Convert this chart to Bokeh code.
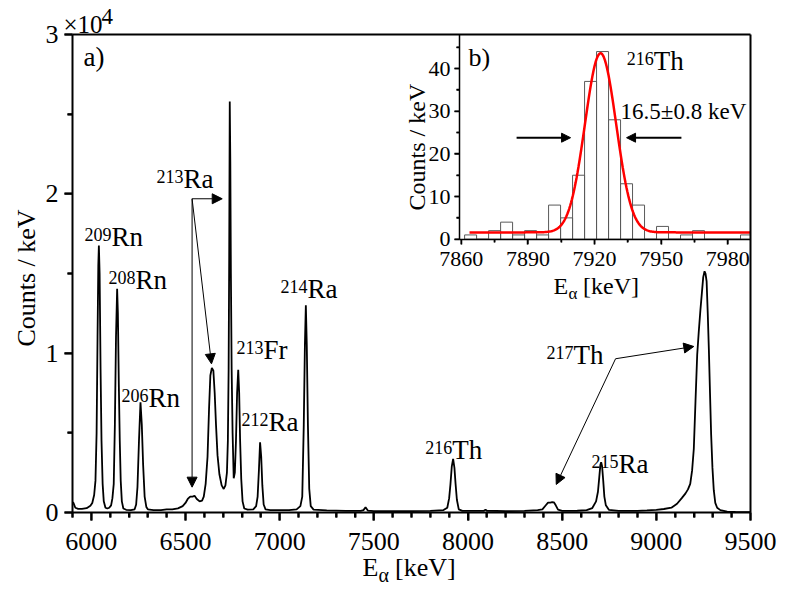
import math
import numpy as np
from bokeh.plotting import figure
from bokeh.models import Range1d, LinearAxis, FixedTicker, Label, Arrow, NormalHead
from bokeh.embed import file_html
from bokeh.resources import INLINE

# ---------------- data ----------------
spec_E = [5900, 5905, 5915, 5930, 5950, 5975, 5995, 6005, 6015, 6022, 6028, 6033, 6037, 6040,
          6044, 6049, 6054, 6060, 6066, 6075, 6085, 6095, 6105, 6112, 6119, 6125, 6131, 6137,
          6141, 6146, 6151, 6156, 6162, 6170, 6185, 6210, 6230, 6238, 6245, 6253, 6261, 6268,
          6275, 6283, 6292, 6300, 6330, 6370, 6400, 6430, 6460, 6485, 6500, 6512, 6525, 6538,
          6548, 6560, 6575, 6588, 6597, 6607, 6617, 6625, 6632, 6640, 6648, 6655, 6662, 6670,
          6680, 6692, 6703, 6712, 6720, 6725, 6729, 6732, 6735, 6738, 6741, 6745, 6750, 6756,
          6762, 6768, 6774, 6780, 6785, 6790, 6796, 6803, 6812, 6830, 6860, 6875, 6883, 6890,
          6896, 6902, 6908, 6915, 6925, 6950, 7000, 7050, 7090, 7110, 7120, 7128, 7134, 7139,
          7144, 7150, 7157, 7165, 7180, 7250, 7350, 7430, 7445, 7456, 7468, 7500, 7600, 7700,
          7800, 7870, 7890, 7900, 7907, 7914, 7921, 7928, 7934, 7941, 7951, 7970, 8050, 8085,
          8093, 8100, 8200, 8300, 8370, 8395, 8412, 8425, 8437, 8447, 8456, 8466, 8478, 8500,
          8580, 8630, 8660, 8680, 8690, 8697, 8703, 8707, 8712, 8718, 8724, 8732, 8748, 8800,
          8900, 8950, 9000, 9040, 9080, 9110, 9135, 9155, 9168, 9180, 9190, 9199, 9208, 9217,
          9225, 9234, 9242, 9249, 9256, 9261, 9267, 9273, 9279, 9285, 9291, 9298, 9305, 9313,
          9323, 9340, 9376, 9420, 9500]
spec_C = [650, 600, 300, 230, 230, 270, 420, 600, 1100, 2000, 5000, 11000, 15500, 16760,
          15000, 9000, 4500, 1800, 700, 300, 250, 300, 450, 900, 1800, 5500, 11000, 14040,
          12500, 8000, 4500, 2000, 700, 250, 170, 150, 200, 500, 1600, 4500, 6920, 5500,
          3000, 1000, 350, 200, 150, 150, 200, 190, 260, 400, 600, 850, 1000, 1000,
          1050, 850, 700, 750, 1000, 1800, 3500, 6500, 8600, 9080, 8900, 7500, 5500, 3600,
          2400, 1700, 1480, 1700, 2500, 4500, 9000, 16000, 25800, 22000, 15000, 9000, 5000, 2150,
          2500, 4500, 7500, 8960, 7500, 4500, 2100, 700, 250, 180, 200, 400, 1000, 2700,
          4410, 3500, 1700, 500, 200, 150, 150, 150, 200, 400, 1000, 5500, 10500, 13000,
          10500, 5500, 1500, 400, 180, 130, 100, 100, 150, 330, 120, 80, 80, 90,
          100, 150, 300, 900, 1800, 2900, 3370, 2800, 1800, 800, 200, 100, 100, 110,
          180, 110, 90, 100, 150, 200, 440, 620, 620, 650, 640, 450, 180, 100,
          110, 150, 280, 700, 1300, 2200, 3000, 3160, 2900, 2000, 1000, 450, 170, 100,
          100, 130, 170, 220, 300, 550, 900, 1200, 1450, 1800, 2640, 4000, 7000, 9900,
          11300, 12700, 13800, 14770, 15140, 15000, 14500, 12500, 10200, 7500, 4900, 2800, 1400, 600,
          300, 150, 50, 30, 20]

iso_mass = ["209", "208", "206", "213", "213", "212", "214", "216", "215", "217"]
iso_elem = ["Rn", "Rn", "Rn", "Ra", "Fr", "Ra", "Ra", "Th", "Ra", "Th"]

hist_start = 7861.5
hist_width = 5.4
hist_counts = [1, 0, 2, 4, 1, 2, 1, 8, 5, 15, 37, 44, 28, 13, 8, 0, 3, 0, 1, 2, 0, 0, 0, 1]

fit_center = 7922.7
fit_fwhm = 16.5
fit_peak = 43.6
fit_base = 1.6

main_xticks = [6000, 6500, 7000, 7500, 8000, 8500, 9000, 9500]
main_xminor = [x for x in range(5900, 9501, 100) if x % 500 != 0]
main_yticks = [0, 10000, 20000, 30000]
main_ylabels = ["0", "1", "2", "3"]
main_yminor = [5000, 15000, 25000]
inset_xticks = [7860, 7890, 7920, 7950, 7980]
inset_xminor = [7875, 7905, 7935, 7965]
inset_yticks = [0, 10, 20, 30, 40]
inset_yminor = [5, 15, 25, 35, 45]

# ---------------- layout ----------------
W, H = 788, 592
FONT = "Liberation Serif"
BASE_FIX = 0.31          # em shift that lifts text onto its alphabetic baseline

# main plot box (canvas pixels) and its data limits
ML, MR, MT, MB = 72, 750, 34, 512
X0, X1 = 5900, 9500
Y0, Y1 = 0, 30000
kx = (X1 - X0) / (MR - ML)
ky = (Y1 - Y0) / (MB - MT)

# inset box (canvas pixels) and its data limits
IL, IR, IT, IB = 459, 750, 34, 238.7
IX0, IX1 = 7859.2, 7990.2
IY0, IY1 = 0, 48
kix = (IX1 - IX0) / (IR - IL)
kiy = (IY1 - IY0) / (IB - IT)

# tick lengths (pixels)
MAJ, MIN_, IMAJ, IMIN = 8, 5, 5, 3

p = figure(width=W, height=H, output_backend="svg", toolbar_location=None,
           x_axis_location=None, y_axis_location=None,
           x_range=Range1d(X0 - ML * kx, X1 + (W - MR) * kx),
           y_range=Range1d(Y0 - (H - MB) * ky, Y1 + MT * ky),
           min_border_left=0, min_border_right=0, min_border_top=0, min_border_bottom=0)
p.extra_x_ranges = {"ix": Range1d(IX0 - IL * kix, IX1 + (W - IR) * kix)}
p.extra_y_ranges = {"iy": Range1d(IY0 - (H - IB) * kiy, IY1 + IT * kiy)}
for g in p.grid:
    g.visible = False
p.background_fill_color = "white"
p.border_fill_color = "white"
p.outline_line_color = None


def style_axis(ax, size, tick_out, minor_out, width, standoff):
    ax.axis_line_color = "black"
    ax.axis_line_width = width
    ax.major_tick_line_color = "black"
    ax.major_tick_line_width = width
    ax.minor_tick_line_color = "black"
    ax.minor_tick_line_width = width
    ax.major_tick_in = 0
    ax.major_tick_out = tick_out
    ax.minor_tick_in = 0
    ax.minor_tick_out = minor_out
    ax.major_label_text_font = FONT
    ax.major_label_text_font_size = f"{size}px"
    ax.major_label_text_color = "black"
    ax.major_label_standoff = standoff


# main axes, fixed on the data box
xa = LinearAxis(fixed_location=Y0, bounds=(X0, X1),
                ticker=FixedTicker(ticks=main_xticks, minor_ticks=main_xminor))
style_axis(xa, 26, MAJ, MIN_, 2, 12)
p.add_layout(xa, "below")
ya = LinearAxis(fixed_location=X0, bounds=(Y0, Y1),
                ticker=FixedTicker(ticks=main_yticks, minor_ticks=main_yminor))
ya.major_label_overrides = {t: s for t, s in zip(main_yticks, main_ylabels)}
style_axis(ya, 26, MAJ, MIN_, 2, 6)
p.add_layout(ya, "left")
ta = LinearAxis(fixed_location=Y1, bounds=(X0, X1), ticker=FixedTicker(ticks=[], minor_ticks=[]))
style_axis(ta, 26, 0, 0, 2, 0)
p.add_layout(ta, "above")
ra = LinearAxis(fixed_location=X1, bounds=(Y0, Y1), ticker=FixedTicker(ticks=[], minor_ticks=[]))
style_axis(ra, 26, 0, 0, 2, 0)
p.add_layout(ra, "right")

# inset axes
iya = LinearAxis(x_range_name="ix", y_range_name="iy", fixed_location=IX0, bounds=(IY0, IY1),
                 ticker=FixedTicker(ticks=inset_yticks, minor_ticks=inset_yminor))
style_axis(iya, 22, IMAJ, IMIN, 1.5, 4)
p.add_layout(iya, "left")
ixa = LinearAxis(x_range_name="ix", y_range_name="iy", fixed_location=IY0, bounds=(IX0, IX1),
                 ticker=FixedTicker(ticks=inset_xticks, minor_ticks=inset_xminor))
style_axis(ixa, 22, IMAJ, IMIN, 1.5, 8)
p.add_layout(ixa, "below")

# outward tick marks as short segments at the tick values
p.segment(x0=main_xticks, y0=Y0, x1=main_xticks, y1=Y0 - MAJ * ky, line_color="black", line_width=2)
p.segment(x0=main_xminor, y0=Y0, x1=main_xminor, y1=Y0 - MIN_ * ky, line_color="black", line_width=2)
p.segment(x0=X0, y0=main_yticks, x1=X0 - MAJ * kx, y1=main_yticks, line_color="black", line_width=2)
p.segment(x0=X0, y0=main_yminor, x1=X0 - MIN_ * kx, y1=main_yminor, line_color="black", line_width=2)
p.segment(x0=inset_xticks, y0=IY0, x1=inset_xticks, y1=IY0 - IMAJ * kiy, line_color="black",
          line_width=1.5, x_range_name="ix", y_range_name="iy")
p.segment(x0=inset_xminor, y0=IY0, x1=inset_xminor, y1=IY0 - IMIN * kiy, line_color="black",
          line_width=1.5, x_range_name="ix", y_range_name="iy")
p.segment(x0=IX0, y0=inset_yticks, x1=IX0 - IMAJ * kix, y1=inset_yticks, line_color="black",
          line_width=1.5, x_range_name="ix", y_range_name="iy")
p.segment(x0=IX0, y0=inset_yminor, x1=IX0 - IMIN * kix, y1=inset_yminor, line_color="black",
          line_width=1.5, x_range_name="ix", y_range_name="iy")

# ---------------- main spectrum ----------------
p.line(spec_E, spec_C, line_color="black", line_width=1.8)

# ---------------- inset histogram and fit ----------------
lefts = [hist_start + i * hist_width for i in range(len(hist_counts))]
rights = [min(l + hist_width, IX1) for l in lefts]
p.quad(left=lefts, right=rights, bottom=0, top=hist_counts, fill_color=None,
       line_color="#5a5a5a", line_width=1, x_range_name="ix", y_range_name="iy")
sig = fit_fwhm / (2 * math.sqrt(2 * math.log(2)))
fx = np.linspace(7863.7, IX1, 300)
fy = fit_base + (fit_peak - fit_base) * np.exp(-0.5 * ((fx - fit_center) / sig) ** 2)
p.line(fx, fy, line_color="#ff0000", line_width=2.5, x_range_name="ix", y_range_name="iy")


def lab(x, y, text, size, xo=0, yo=0, align="left", angle=0, inset=False):
    kw = dict(x_range_name="ix", y_range_name="iy") if inset else {}
    fix = BASE_FIX * size
    if angle:
        xo -= fix
    else:
        yo += fix
    p.add_layout(Label(x=x, y=y, text=text, x_offset=xo, y_offset=yo, text_font=FONT,
                       text_font_size=f"{size}px", text_align=align,
                       text_baseline="alphabetic", angle=angle, text_color="black", **kw))


# isotope labels
iso_pos = [(6107, 16760), (6234, 14060), (6304, 6650), (6489, 20400), (6914, 9670),
           (6941, 5150), (7148, 13500), (7916, 3390), (8799, 2510), (8560, 9350)]
for (x, y), m, e in zip(iso_pos, iso_mass, iso_elem):
    lab(x, y, m, 18, yo=5, align="right")
    lab(x, y, e, 27, align="left")

lab(5958, 28060, "a)", 27)

# x10^4 multiplier
lab(X0, Y1, "\u00d710", 25, xo=-9, yo=2)
lab(X0, Y1, "4", 23, xo=29, yo=11)

# main axis titles
lab(X0, 14718, "Counts / keV", 26, xo=-38, align="center", angle=math.pi / 2)
lab(7700, Y0, "E", 26, xo=-49, yo=-63)
lab(7700, Y0, "\u03b1", 20, xo=-33, yo=-69)
lab(7700, Y0, "[keV]", 26, xo=-16.5, yo=-63)

# inset texts
lab(7863.3, 40.8, "b)", 26, inset=True)
lab(7946.6, 39.8, "216", 18, yo=5, align="right", inset=True)
lab(7946.6, 39.8, "Th", 27, inset=True)
lab(7931.7, 28.3, "16.5\u00b10.8 keV", 23, inset=True)
lab(IX0, 21.6, "Counts / keV", 24, xo=-35, align="center", angle=math.pi / 2, inset=True)
lab(7920, IY0, "E", 24, xo=-41, yo=-54, inset=True)
lab(7920, IY0, "\u03b1", 17, xo=-26, yo=-60, inset=True)
lab(7920, IY0, "[keV]", 24, xo=-11.5, yo=-54, inset=True)


# ---------------- arrows ----------------
def arr(x0, y0, x1, y1, w, size, inset=False):
    kw = dict(x_range_name="ix", y_range_name="iy") if inset else {}
    p.add_layout(Arrow(x_start=x0, y_start=y0, x_end=x1, y_end=y1, line_color="black",
                       line_width=w, start=None,
                       end=NormalHead(size=size, fill_color="black", line_color="black", line_width=1),
                       **kw))


arr(6535, 19690, 6695, 19690, 1, 10)
arr(6535, 19690, 6535, 1590, 1, 10)
arr(6535, 19690, 6638, 9330, 1, 10)
arr(8783.6, 9650, 9199, 10420, 1, 10)
arr(8783.6, 9650, 8468.6, 1760, 1, 10)
arr(7884.9, 23.8, 7909.2, 23.8, 2, 9, inset=True)
arr(7959.1, 23.8, 7934.4, 23.8, 2, 9, inset=True)

open("out.html", "w").write(file_html(p, INLINE))
